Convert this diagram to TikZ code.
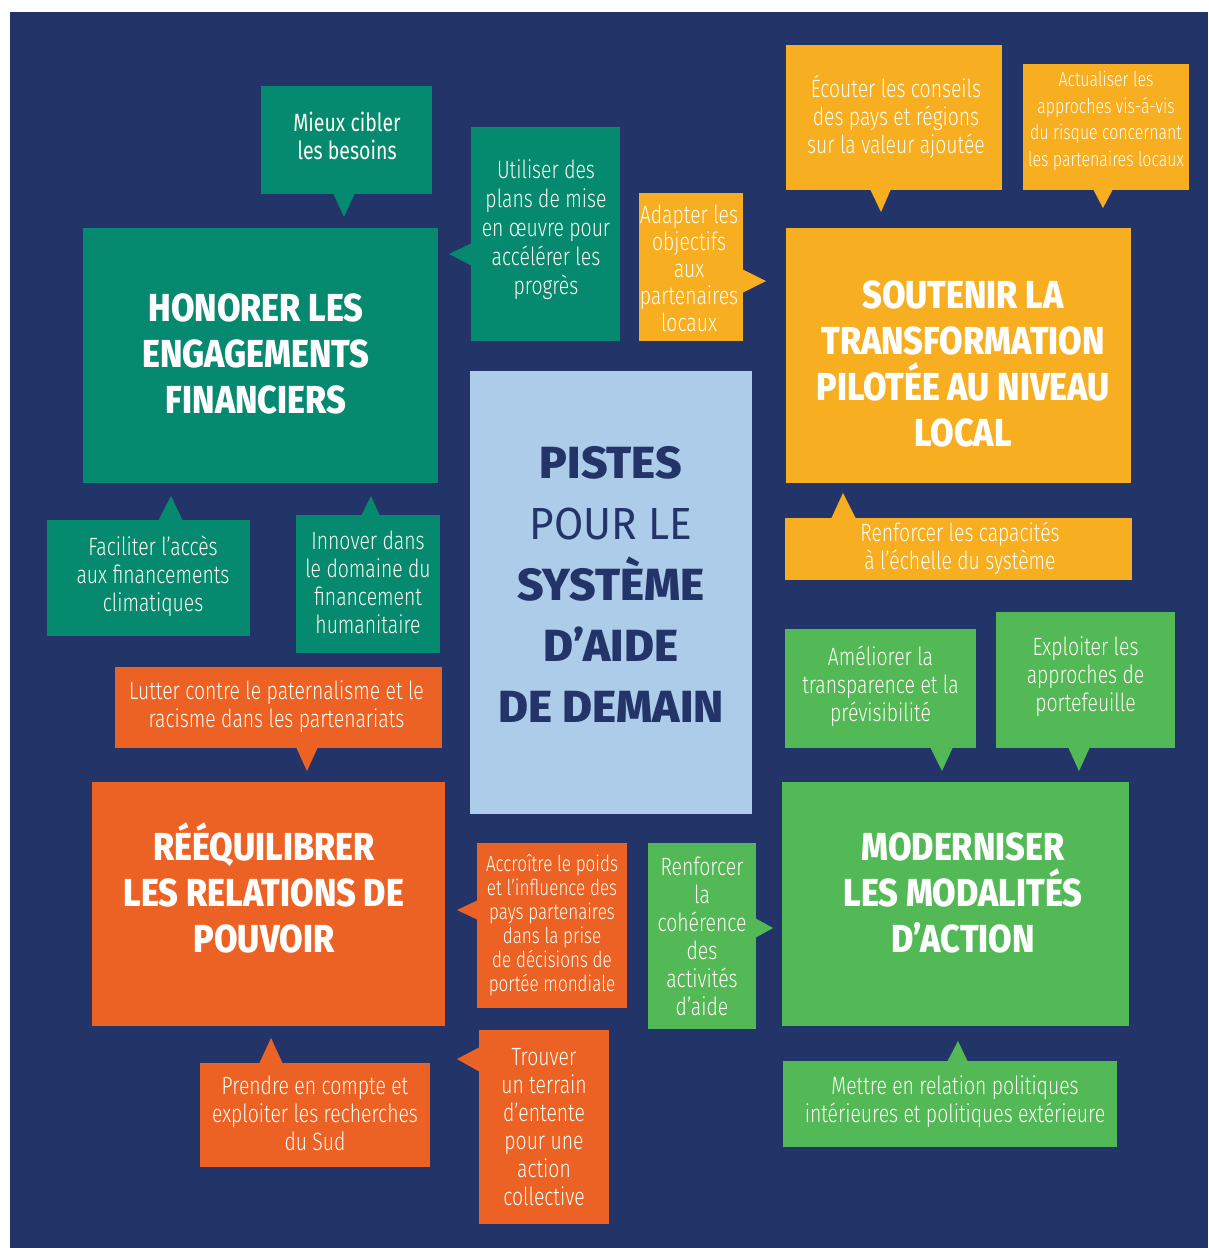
\documentclass[tikz,border=0pt]{standalone}
\usepackage{fontspec}
\setmainfont{Fira Sans}
\newfontfamily\lightf{Fira Sans Light}[FakeStretch=0.775]
\newfontfamily\regf{Fira Sans}[FakeStretch=0.78]
\newfontfamily\titf{Fira Sans ExtraBold}[FakeStretch=0.875]
\newfontfamily\centf{Fira Sans ExtraBold}[FakeStretch=1.02]
\newfontfamily\centrf{Fira Sans}[FakeStretch=0.94]
\definecolor{navy}{HTML}{233468}
\definecolor{cteal}{HTML}{068A6F}
\definecolor{cgold}{HTML}{F8AE21}
\definecolor{corange}{HTML}{EC6225}
\definecolor{cgreen}{HTML}{53B957}
\definecolor{clight}{HTML}{ADCCE9}
\definecolor{ctext}{HTML}{FFFDF5}
\tikzset{
  bx/.style={rectangle, inner sep=0pt, draw=none},
  small/.style={font=\lightf\fontsize{25}{28}\selectfont, text=ctext, align=center},
  smaller/.style={font=\lightf\fontsize{21}{26.5}\selectfont, text=ctext, align=center},
  smallacc/.style={font=\lightf\fontsize{22}{24}\selectfont, text=ctext, align=center},
  regtxt/.style={font=\regf\fontsize{25}{28}\selectfont, text=ctext, align=center},
  title/.style={font=\titf\fontsize{39}{46}\selectfont, text=white, align=center},
  ctitle/.style={font=\centf\fontsize{45}{61}\selectfont, text=navy, align=center},
}
\begin{document}
\begin{tikzpicture}[x=1pt,y=-1pt]
\useasboundingbox (0,0) rectangle (1208,1248);
\fill[white] (0,0) rectangle (1208,1248);
\fill[navy] (10,12) rectangle (1208,1248);

% ---------- central box
\node[bx, fill=clight, minimum width=282, minimum height=443] (centre) at (611,592.5) {};
\node[ctitle] (centretxt) at (611,584) {PISTES\\{\centrf POUR LE}\\SYSTÈME\\D’AIDE\\DE DEMAIN};

% ---------- teal group
\node[bx, fill=cteal, minimum width=171, minimum height=108] (mieux) at (346.5,140) {};
\node[regtxt] (mieuxtxt) at (347,136) {Mieux cibler\\les besoins};
\fill[cteal] (333,193) -- (344,217) -- (355,193) -- cycle;

\node[bx, fill=cteal, minimum width=355, minimum height=255] (honor) at (260.5,355.5) {};
\node[title] (honortxt) at (256,354) {HONORER LES\\ENGAGEMENTS\\FINANCIERS};

\node[bx, fill=cteal, minimum width=203, minimum height=116] (facil) at (148.5,578) {};
\node[small] (faciltxt) at (153,576) {Faciliter l’accès\\aux financements\\climatiques};
\fill[cteal] (158,521) -- (171,496) -- (183,521) -- cycle;

\node[bx, fill=cteal, minimum width=144, minimum height=138] (innov) at (368,584) {};
\node[small] (innovtxt) at (368,582) {Innover dans\\le domaine du\\financement\\humanitaire};
\fill[cteal] (361,516) -- (371,496) -- (380,516) -- cycle;

\node[bx, fill=cteal, minimum width=149, minimum height=214] (utili) at (545.5,234) {};
\node[small, font=\lightf\fontsize{25}{29}\selectfont] (utilitxt) at (546,230) {Utiliser des\\plans de mise\\en œuvre pour\\accélérer les\\progrès};
\fill[cteal] (472,243) -- (449,254) -- (472,266) -- cycle;

% ---------- gold group
\node[bx, fill=cgold, minimum width=104, minimum height=148] (adapt) at (691,267) {};
\node[small, font=\lightf\fontsize{25}{27}\selectfont] (adapttxt) at (689,268) {Adapter les\\objectifs\\aux\\partenaires\\locaux};
\fill[cgold] (742,269) -- (766,281) -- (742,293) -- cycle;

\node[bx, fill=cgold, minimum width=216, minimum height=145] (ecout) at (894,117.5) {};
\node[small] (ecouttxt) at (896,117) {Écouter les conseils\\des pays et régions\\sur la valeur ajoutée};
\fill[cgold] (870,189) -- (881,212) -- (891,189) -- cycle;

\node[bx, fill=cgold, minimum width=166, minimum height=126] (actua) at (1106,127) {};
\node[smaller, font=\lightf\fontsize{20.5}{26.5}\selectfont] (actuatxt) at (1106,121) {Actualiser les\\approches vis-á-vis\\du risque concernant\\les partenaires locaux};
\fill[cgold] (1093,189) -- (1103,208) -- (1113,189) -- cycle;

\node[bx, fill=cgold, minimum width=345, minimum height=255] (soutn) at (958.5,355.5) {};
\node[title] (soutntxt) at (963,364) {SOUTENIR LA\\TRANSFORMATION\\PILOTÉE AU NIVEAU\\LOCAL};

\node[bx, fill=cgold, minimum width=347, minimum height=62] (renfc) at (958.5,549) {};
\node[small] (renfctxt) at (960,548) {Renforcer les capacités\\à l’échelle du système};
\fill[cgold] (831,519) -- (843,493) -- (856,519) -- cycle;

% ---------- green group
\node[bx, fill=cgreen, minimum width=191, minimum height=119] (amel) at (880.5,688.5) {};
\node[small] (ameltxt) at (880.5,686) {Améliorer la\\transparence et la\\prévisibilité};
\fill[cgreen] (930,747) -- (942,771) -- (953,747) -- cycle;

\node[bx, fill=cgreen, minimum width=179, minimum height=136] (explo) at (1085.5,680) {};
\node[small] (explotxt) at (1085.5,677) {Exploiter les\\approches de\\portefeuille};
\fill[cgreen] (1068,747) -- (1079,771) -- (1090,747) -- cycle;

\node[bx, fill=cgreen, minimum width=347, minimum height=244] (modern) at (955.5,904) {};
\node[title] (moderntxt) at (963,893) {MODERNISER\\LES MODALITÉS\\D’ACTION};

\node[bx, fill=cgreen, minimum width=334, minimum height=86] (mettre) at (950,1104) {};
\node[small] (mettretxt) at (955,1102) {Mettre en relation politiques\\intérieures et politiques extérieure};
\fill[cgreen] (947,1062) -- (958,1041) -- (968,1062) -- cycle;

\node[bx, fill=cgreen, minimum width=108, minimum height=186, small] (coher) at (702,936) {Renforcer\\la\\cohérence\\des\\activités\\d’aide};
\fill[cgreen] (755,918) -- (773,928) -- (755,938) -- cycle;

% ---------- orange group
\node[bx, fill=corange, minimum width=327, minimum height=81] (lutter) at (278.5,707.5) {};
\node[small] (luttertxt) at (276.5,707) {Lutter contre le paternalisme et le\\racisme dans les partenariats};
\fill[corange] (296,747) -- (307,771) -- (318,747) -- cycle;

\node[bx, fill=corange, minimum width=353, minimum height=244] (reequi) at (268.5,904) {};
\node[title] (reequitxt) at (264,888) {RÉÉQUILIBRER\\LES RELATIONS DE\\POUVOIR};

\node[bx, fill=corange, minimum width=150, minimum height=165, smallacc] (accro) at (552,925.5) {Accroître le poids\\et l’influence des\\pays partenaires\\dans la prise\\de décisions de\\portée mondiale};
\fill[corange] (478,900) -- (457,910) -- (478,920) -- cycle;

\node[bx, fill=corange, minimum width=230, minimum height=104] (prendre) at (315,1115) {};
\node[small] (prendretxt) at (315,1113) {Prendre en compte et\\exploiter les recherches\\du Sud};
\fill[corange] (259,1064) -- (271,1038) -- (283,1064) -- cycle;

\node[bx, fill=corange, minimum width=130, minimum height=194, small] (trouver) at (544,1127) {Trouver\\un terrain\\d’entente\\pour une\\action\\collective};
\fill[corange] (480,1047) -- (457,1059) -- (480,1072) -- cycle;
\end{tikzpicture}
\end{document}
